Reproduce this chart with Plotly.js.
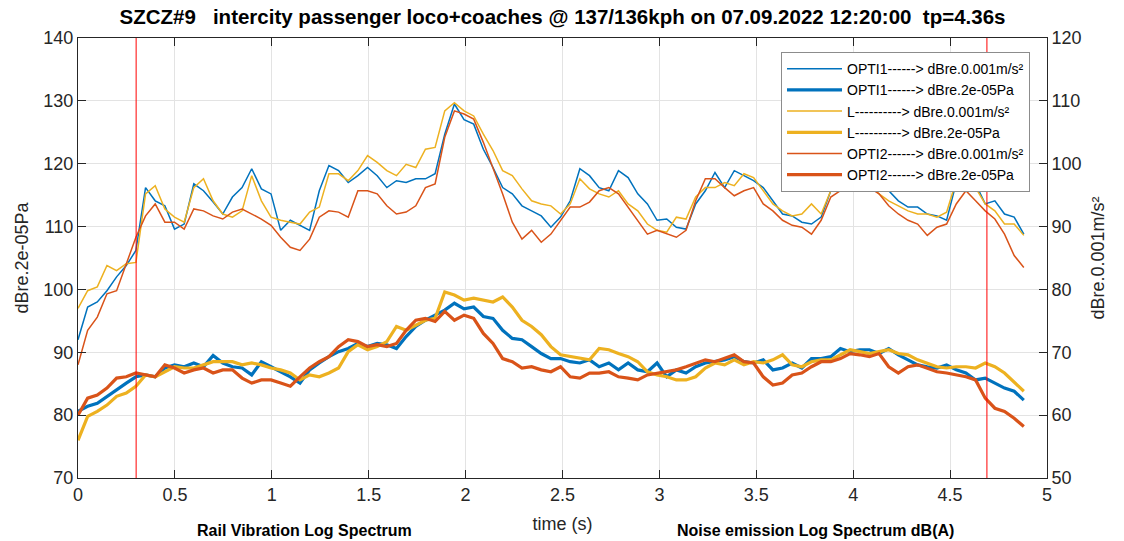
<!DOCTYPE html>
<html>
<head>
<meta charset="utf-8">
<script src="https://cdn.plot.ly/plotly-3.0.1.min.js"></script>
<style>html,body{margin:0;padding:0;background:#fff;}#chart{width:1124px;height:541px;}</style>
</head>
<body>
<div id="chart"></div>
<script>
// ---- data (time step in seconds) ----
const tStep = 0.0498;
const markerTimes = [0.30, 4.69];

// thin lines: dBre.0.001m/s² (right axis)
const opti1Acc = [72.0, 77.2, 78.0, 79.8, 82.0, 83.8, 86.2, 96.2, 94.1, 93.3, 89.6, 90.4, 96.8, 95.7, 93.9, 92.0, 94.7, 96.2, 99.2, 96.0, 95.2, 89.4, 91.0, 90.2, 89.4, 95.7, 99.7, 98.9, 97.0, 98.1, 99.4, 98.1, 96.2, 97.3, 97.0,
  97.6, 97.6, 98.4, 104.7, 109.5, 107.0, 106.3, 102.3, 99.4, 96.2, 95.2, 93.3, 92.5, 91.7, 89.9, 91.5, 94.1, 99.2, 98.1, 96.2, 95.7, 98.9, 97.8, 95.2, 93.6, 91.0, 91.2, 89.9, 89.6, 93.6, 95.7, 98.6, 96.2, 98.9,
  98.1, 97.3, 96.2, 94.1, 92.0, 91.7, 90.7, 90.4, 91.5, 95.7, 97.0, 97.3, 97.3, 97.3, 96.2, 95.7, 94.1, 93.1, 93.1, 92.0, 91.7, 91.0, 97.0, 97.6, 96.8, 93.6, 94.1, 92.0, 91.5, 88.8];
const lAcc = [77.0, 79.8, 80.4, 83.8, 83.0, 84.1, 84.3, 95.2, 96.5, 92.8, 91.5, 90.7, 96.2, 97.6, 94.1, 92.0, 91.5, 92.5, 98.1, 94.1, 91.5, 91.0, 90.7, 90.4, 92.3, 93.1, 98.4, 98.4, 97.3, 98.9, 101.3, 100.2, 98.9, 98.1, 99.9,
  99.4, 102.3, 102.6, 108.4, 109.7, 108.4, 107.6, 104.7, 102.1, 98.9, 98.1, 96.0, 94.1, 93.6, 93.3, 92.0, 93.6, 97.6, 96.0, 95.2, 94.7, 95.7, 93.6, 92.5, 90.4, 89.4, 89.1, 91.5, 91.2, 94.7, 96.2, 96.2, 97.0, 96.5,
  98.4, 97.8, 95.7, 93.6, 92.5, 91.7, 92.0, 93.6, 92.0, 95.7, 97.0, 97.6, 97.3, 96.8, 95.2, 94.1, 93.3, 92.5, 92.0, 92.0, 91.5, 92.3, 97.3, 97.0, 96.2, 93.6, 92.5, 90.4, 90.4, 88.6];
const opti2Acc = [68.0, 73.5, 75.6, 79.3, 79.8, 84.1, 88.3, 91.7, 93.6, 90.7, 90.7, 89.6, 92.8, 92.5, 91.7, 91.2, 92.3, 92.8, 92.0, 91.2, 90.2, 88.3, 86.7, 86.2, 88.0, 91.5, 92.5, 92.3, 91.5, 95.7, 95.7, 95.2, 93.3, 92.0, 92.3,
  93.3, 96.2, 96.8, 104.2, 108.4, 107.9, 107.1, 103.4, 99.4, 95.2, 90.7, 88.0, 89.4, 87.5, 88.8, 91.0, 93.1, 93.1, 93.9, 95.7, 96.2, 95.2, 93.1, 91.0, 88.8, 89.4, 88.8, 88.3, 89.4, 94.1, 97.6, 97.6, 96.2, 94.9,
  95.7, 96.2, 93.6, 92.5, 91.0, 90.2, 89.9, 88.8, 91.0, 94.7, 95.7, 97.0, 96.8, 96.2, 95.2, 93.3, 92.0, 91.0, 90.4, 88.6, 89.9, 90.4, 93.6, 95.7, 94.1, 92.5, 91.2, 88.8, 85.4, 83.5];

// thick lines: dBre.2e-05Pa (left axis)
const opti1Pa = [80.6, 81.4, 81.9, 83.0, 84.0, 85.1, 86.1, 86.4, 86.1, 87.5, 88.0, 87.7, 88.3, 87.7, 89.5, 88.3, 87.7, 87.5, 86.4, 88.5, 87.7, 86.9, 86.1, 85.1, 87.2, 88.3, 89.3, 90.1, 90.6, 91.4, 90.9, 91.4, 91.2, 90.6, 92.5,
  94.1, 95.1, 95.9, 96.7, 97.8, 96.9, 97.2, 95.7, 95.4, 93.5, 92.2, 92.0, 90.9, 89.8, 89.0, 89.0, 88.5, 88.3, 88.8, 87.7, 88.3, 87.2, 88.3, 87.2, 86.9, 88.3, 86.1, 87.2, 86.7, 87.7, 88.3, 88.5, 88.8, 89.3,
  88.5, 88.3, 88.8, 87.2, 87.5, 88.3, 87.5, 89.0, 89.0, 89.3, 90.6, 90.1, 90.4, 90.4, 89.8, 90.6, 89.6, 88.8, 88.0, 87.7, 87.5, 88.0, 87.2, 86.7, 85.6, 85.9, 85.1, 84.3, 83.8, 82.4];
const lPa = [76.0, 79.8, 80.6, 81.6, 83.0, 83.5, 84.6, 86.4, 86.1, 86.9, 87.7, 87.5, 87.5, 88.0, 88.5, 88.5, 88.5, 88.0, 88.3, 88.0, 87.5, 87.2, 86.7, 85.6, 86.4, 86.1, 86.7, 87.5, 90.1, 91.2, 90.4, 90.9, 91.7, 94.1, 93.5,
  94.3, 95.1, 95.4, 99.6, 99.1, 98.3, 98.6, 98.3, 98.0, 98.8, 97.2, 95.1, 94.1, 92.8, 90.9, 89.6, 89.3, 89.0, 88.8, 90.6, 90.4, 89.8, 89.3, 88.5, 86.9, 86.4, 86.1, 85.6, 85.6, 86.1, 87.5, 88.3, 88.0, 88.8,
  88.0, 88.5, 88.3, 88.8, 89.6, 88.0, 87.7, 88.5, 88.8, 88.8, 89.6, 90.4, 90.1, 89.8, 90.1, 90.4, 89.8, 89.6, 88.8, 88.3, 87.7, 87.5, 87.7, 87.7, 87.5, 88.3, 87.7, 86.7, 85.3, 83.8];
const opti2Pa = [80.0, 82.7, 83.2, 84.3, 85.9, 86.1, 86.7, 86.4, 86.1, 88.0, 87.5, 86.7, 87.2, 87.5, 86.7, 87.2, 87.2, 85.9, 85.1, 85.6, 85.6, 85.1, 84.6, 86.1, 87.5, 88.5, 89.3, 90.9, 92.0, 91.7, 90.9, 91.2, 90.9, 91.4, 93.5,
  95.1, 95.4, 94.9, 96.5, 95.1, 95.9, 95.4, 93.0, 91.4, 89.0, 88.5, 87.5, 87.7, 87.2, 86.9, 87.7, 86.1, 85.9, 86.7, 86.7, 86.9, 86.1, 85.9, 85.6, 86.4, 86.7, 86.9, 87.2, 87.7, 88.3, 88.8, 88.5, 89.0, 89.6,
  88.5, 88.3, 86.1, 84.8, 85.1, 86.4, 86.7, 87.7, 88.5, 88.5, 89.0, 89.8, 89.6, 89.3, 89.8, 87.7, 86.7, 87.7, 88.0, 87.5, 86.9, 86.7, 86.4, 86.1, 85.6, 82.7, 81.1, 80.6, 79.5, 78.2];

const seriesNames = [
  'OPTI1------> dBre.0.001m/s²',
  'OPTI1------> dBre.2e-05Pa',
  'L----------> dBre.0.001m/s²',
  'L----------> dBre.2e-05Pa',
  'OPTI2------> dBre.0.001m/s²',
  'OPTI2------> dBre.2e-05Pa'
];
const titleText = 'SZCZ#9\u00A0\u00A0\u00A0intercity passenger loco+coaches @ 137/136kph on 07.09.2022 12:20:00\u00A0\u00A0tp=4.36s';
const subTitles = ['Rail Vibration Log Spectrum', 'Noise emission Log Spectrum dB(A)'];

// ---- build ----
const time = opti1Acc.map((_, i) => +(i * tStep).toFixed(4));
const C_BLUE = '#0072BD', C_YEL = '#EDB120', C_ORA = '#D95319';
const FONT = 'Liberation Sans, Arial, Helvetica, sans-serif';

function tr(y, name, color, w, axis) {
  return {x: time, y: y, name: name, type: 'scatter', mode: 'lines',
    line: {color: color, width: w}, yaxis: axis};
}
const traces = [
  tr(opti1Acc, seriesNames[0], C_BLUE, 1.5, 'y2'),
  tr(opti1Pa, seriesNames[1], C_BLUE, 3.2, 'y'),
  tr(lAcc, seriesNames[2], C_YEL, 1.5, 'y2'),
  tr(lPa, seriesNames[3], C_YEL, 3.2, 'y'),
  tr(opti2Acc, seriesNames[4], C_ORA, 1.5, 'y2'),
  tr(opti2Pa, seriesNames[5], C_ORA, 3.2, 'y')
];

const shapes = markerTimes.map(t => ({type: 'line', xref: 'x', yref: 'paper',
  x0: t, x1: t, y0: 0, y1: 1, line: {color: '#FF0000', width: 1}, layer: 'above'}));

const axisCommon = {
  showline: true, linecolor: '#262626', linewidth: 1,
  ticks: 'inside', ticklen: 8, tickcolor: '#262626', tickwidth: 1,
  tickfont: {family: FONT, size: 18, color: '#262626'},
  zeroline: false
};

const layout = {
  width: 1124, height: 541,
  margin: {l: 78, r: 77, t: 38, b: 63},
  paper_bgcolor: '#ffffff', plot_bgcolor: '#ffffff',
  font: {family: FONT, color: '#262626'},
  title: {text: '<b>' + titleText + '</b>', font: {family: FONT, size: 20.5, color: '#000'},
    x: 0.5, xanchor: 'center', y: 0.968, yanchor: 'middle', xref: 'paper'},
  xaxis: Object.assign({}, axisCommon, {
    range: [0, 5], dtick: 0.5, tick0: 0, mirror: 'ticks',
    showgrid: true, gridcolor: '#e3e3e3',
    title: {text: 'time (s)', font: {family: FONT, size: 18, color: '#262626'}, standoff: 13}
  }),
  yaxis: Object.assign({}, axisCommon, {
    range: [70, 140], dtick: 10, tick0: 70,
    showgrid: true, gridcolor: '#e3e3e3',
    title: {text: 'dBre.2e-05Pa', font: {family: FONT, size: 18, color: '#262626'}, standoff: 10}
  }),
  yaxis2: Object.assign({}, axisCommon, {
    range: [50, 120], dtick: 10, tick0: 50,
    overlaying: 'y', side: 'right', showgrid: false,
    title: {text: 'dBre.0.001m/s²', font: {family: FONT, size: 18, color: '#262626'}, standoff: 10}
  }),
  showlegend: true,
  legend: {x: 0.7255, y: 0.968, xanchor: 'left', yanchor: 'top',
    bgcolor: '#ffffff', bordercolor: '#8c8c8c', borderwidth: 1,
    font: {family: FONT, size: 14, color: '#000'}, itemwidth: 55,
    tracegroupgap: 0},
  shapes: shapes,
  annotations: [
    {text: '<b>' + subTitles[0] + '</b>', xref: 'paper', yref: 'paper', x: 0.234, y: -0.143,
      xanchor: 'center', yanchor: 'bottom', showarrow: false, font: {family: FONT, size: 16, color: '#000'}},
    {text: '<b>' + subTitles[1] + '</b>', xref: 'paper', yref: 'paper', x: 0.7606, y: -0.143,
      xanchor: 'center', yanchor: 'bottom', showarrow: false, font: {family: FONT, size: 16, color: '#000'}}
  ]
};

Plotly.newPlot('chart', traces, layout, {displayModeBar: false, staticPlot: true});
</script>
</body>
</html>
